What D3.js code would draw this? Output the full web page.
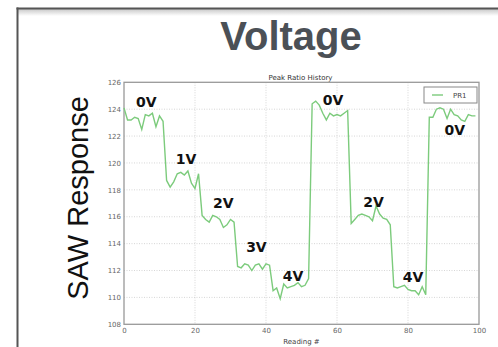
<!DOCTYPE html>
<html>
<head>
<meta charset="utf-8">
<script src="https://cdn.jsdelivr.net/npm/d3@7"></script>
<style>
  html, body { margin: 0; background: #fff; overflow: hidden; }
  svg { display: block; }
  .tick text { font-family: 'DejaVu Sans', sans-serif; font-size: 7px; fill: #666; }
  .volt { font-family: 'DejaVu Sans', sans-serif; font-weight: bold; font-size: 14px; fill: #111; }
</style>
</head>
<body>
<script>
// readings (x) and peak ratio values
const readings = d3.range(0, 100)
const peakRatio = [
  0.1241, 0.1232, 0.1232, 0.1234, 0.1233, 0.1225, 0.1236, 0.1235, 0.1237, 0.1227,
  0.1235, 0.1231, 0.1187, 0.1182, 0.1186, 0.1192, 0.1193, 0.1191, 0.1194, 0.1185,
  0.1181, 0.1192, 0.1161, 0.1158, 0.1156, 0.1161, 0.1160, 0.1158, 0.1152, 0.1154,
  0.1158, 0.1156, 0.1123, 0.1122, 0.1125, 0.1124, 0.1120, 0.1124, 0.1125, 0.1121,
  0.1125, 0.1124, 0.1105, 0.1107, 0.1099, 0.1110, 0.1107, 0.1108, 0.1109, 0.1111,
  0.1108, 0.1109, 0.1114, 0.1244, 0.1246, 0.1243, 0.1237, 0.1232, 0.1237, 0.1235,
  0.1236, 0.1235, 0.1237, 0.1239, 0.1155, 0.1158, 0.1161, 0.1162, 0.1161, 0.1160,
  0.1157, 0.1168, 0.1162, 0.1159, 0.1158, 0.1154, 0.1108, 0.1107, 0.1108, 0.1109,
  0.1106, 0.1105, 0.1105, 0.1102, 0.1108, 0.1102, 0.1234, 0.1234, 0.1240, 0.1241,
  0.1240, 0.1233, 0.1240, 0.1236, 0.1235, 0.1232, 0.1231, 0.1236, 0.1235, 0.1235
]
const xTicks = [0, 20, 40, 60, 80, 100]
const yTicks = [0.108, 0.110, 0.112, 0.114, 0.116, 0.118, 0.120, 0.122, 0.124, 0.126]
// voltage annotations: [reading, value at baseline, label]
const voltLabels = [
  [6.3, 0.12416, '0V'], [17.5, 0.11993, '1V'], [28, 0.11665, '2V'], [37.3, 0.11338, '3V'],
  [47.6, 0.11123, '4V'], [58.9, 0.12431, '0V'], [70.3, 0.11673, '2V'], [81.4, 0.11115, '4V'],
  [93.2, 0.12208, '0V']
]

const width = 498, height = 347
const plot = { left: 124, right: 479, top: 82.3, bottom: 324.3 }

const svg = d3.select('body').append('svg')
  .attr('width', width).attr('height', height)

// slide frame: left and top edges only, shadow under the top edge
const defs = svg.append('defs')
const grad = defs.append('linearGradient').attr('id', 'shade')
  .attr('x1', 0).attr('y1', 0).attr('x2', 0).attr('y2', 1)
grad.append('stop').attr('offset', '0%').attr('stop-color', '#c8c8c8')
grad.append('stop').attr('offset', '100%').attr('stop-color', '#fff')
svg.append('rect').attr('x', 18).attr('y', 9).attr('width', 480).attr('height', 7)
  .attr('fill', 'url(#shade)')
svg.append('line').attr('x1', 17.5).attr('x2', 17.5).attr('y1', 7.5).attr('y2', 347)
  .attr('stroke', '#555').attr('stroke-width', 2)
svg.append('line').attr('x1', 16.5).attr('x2', 498).attr('y1', 8.5).attr('y2', 8.5)
  .attr('stroke', '#555').attr('stroke-width', 2)

svg.append('text').text('Voltage')
  .attr('x', 291).attr('y', 50).attr('text-anchor', 'middle')
  .style('font-family', "'Liberation Sans', Arial, sans-serif")
  .style('font-weight', 'bold').style('font-size', '40px').attr('fill', '#4b5056')

svg.append('text').text('SAW Response')
  .attr('transform', 'translate(88,198) rotate(-90)')
  .attr('text-anchor', 'middle')
  .style('font-family', "'Liberation Sans', Arial, sans-serif")
  .style('font-size', '29px').attr('fill', '#111')

const xScale = d3.scaleLinear().domain([0, 100]).range([plot.left, plot.right])
const yScale = d3.scaleLinear().domain([0.108, 0.126]).range([plot.bottom, plot.top])

const chart = svg.append('g')

// grid
chart.append('g').selectAll('line').data(xTicks.slice(1, -1)).join('line')
  .attr('x1', (d) => xScale(d)).attr('x2', (d) => xScale(d))
  .attr('y1', plot.top).attr('y2', plot.bottom)
  .attr('stroke', '#ccc').attr('stroke-width', 0.8).attr('stroke-dasharray', '1,1.5')
chart.append('g').selectAll('line').data(yTicks.slice(1, -1)).join('line')
  .attr('x1', plot.left).attr('x2', plot.right)
  .attr('y1', (d) => yScale(d)).attr('y2', (d) => yScale(d))
  .attr('stroke', '#ccc').attr('stroke-width', 0.8).attr('stroke-dasharray', '1,1.5')

// axes; y labels are cut on the left like in the source image
const xAxis = chart.append('g')
  .attr('transform', `translate(0,${plot.bottom})`)
  .call(d3.axisBottom(xScale).tickValues(xTicks).tickSize(0).tickPadding(4).tickFormat(d3.format('d')))
const yAxis = chart.append('g')
  .attr('transform', `translate(${plot.left},0)`)
  .call(d3.axisLeft(yScale).tickValues(yTicks).tickSize(0).tickPadding(3)
    .tickFormat((d) => d3.format('.3f')(d).slice(2)))
xAxis.select('.domain').remove()
yAxis.select('.domain').remove()

chart.append('rect')
  .attr('x', plot.left).attr('y', plot.top)
  .attr('width', plot.right - plot.left).attr('height', plot.bottom - plot.top)
  .attr('fill', 'none').attr('stroke', '#999').attr('stroke-width', 1.3)

// line
const line = d3.line().x((d, i) => xScale(readings[i])).y((d) => yScale(d))
chart.append('path').datum(peakRatio)
  .attr('d', line).attr('fill', 'none')
  .attr('stroke', '#7ccb7c').attr('stroke-width', 1.4)

// titles
chart.append('text').text('Peak Ratio History')
  .attr('x', (plot.left + plot.right) / 2 - 1).attr('y', 79.5).attr('text-anchor', 'middle')
  .style('font-family', "'DejaVu Sans', sans-serif").style('font-size', '7px').attr('fill', '#333')
chart.append('text').text('Reading #')
  .attr('x', (plot.left + plot.right) / 2).attr('y', 344).attr('text-anchor', 'middle')
  .style('font-family', "'DejaVu Sans', sans-serif").style('font-size', '7px').attr('fill', '#444')

// voltage labels
chart.append('g').selectAll('text').data(voltLabels).join('text')
  .attr('class', 'volt')
  .attr('x', (d) => xScale(d[0])).attr('y', (d) => yScale(d[1]))
  .attr('text-anchor', 'middle')
  .text((d) => d[2])

// legend
const legend = chart.append('g')
legend.append('rect').attr('x', 424).attr('y', 87).attr('width', 53).attr('height', 16)
  .attr('fill', '#fff').attr('stroke', '#888').attr('stroke-width', 1)
legend.append('line').attr('x1', 432).attr('x2', 443).attr('y1', 95).attr('y2', 95)
  .attr('stroke', '#7ccb7c').attr('stroke-width', 1.4)
legend.append('text').text('PR1').attr('x', 453).attr('y', 97.5)
  .style('font-family', "'DejaVu Sans', sans-serif").style('font-size', '7px').attr('fill', '#444')
</script>
</body>
</html>
